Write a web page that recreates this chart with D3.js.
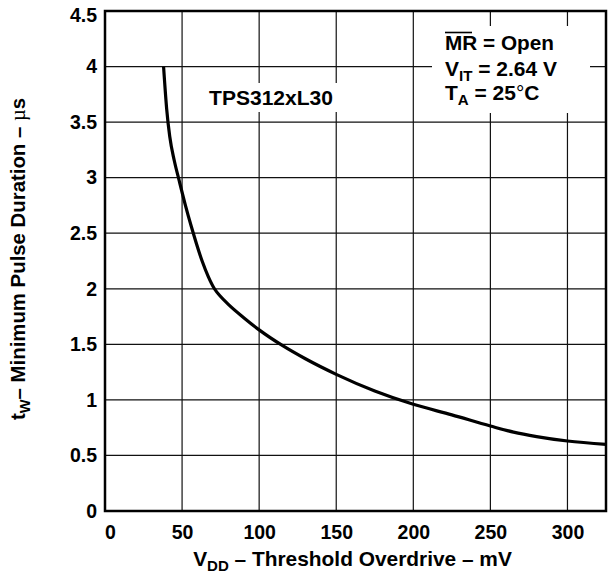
<!DOCTYPE html>
<html>
<head>
<meta charset="utf-8">
<script src="https://cdn.jsdelivr.net/npm/d3@7"></script>
<style>
  body { margin: 0; background: #fff; }
  text { font-family: "Liberation Sans", Arial, sans-serif; font-weight: bold; fill: #000; }
</style>
</head>
<body>
<div id="graphic"></div>
<script>
// curve
var overdrive = [38, 40, 42, 45, 48, 52, 56, 63, 67, 71, 75, 80, 90, 100, 115, 130, 150, 175, 200, 225, 250, 265, 280, 300, 325];
var pulseWidth = [4.0, 3.62, 3.37, 3.15, 2.98, 2.76, 2.56, 2.25, 2.11, 2.0, 1.93, 1.86, 1.74, 1.63, 1.49, 1.37, 1.23, 1.08, 0.96, 0.865, 0.765, 0.71, 0.67, 0.63, 0.60];
var xTicks = [0, 50, 100, 150, 200, 250, 300];
var yTicks = [0, 0.5, 1, 1.5, 2, 2.5, 3, 3.5, 4, 4.5];

var margin = {top: 11, right: 2, bottom: 67, left: 105},
    width = 608 - margin.left - margin.right,
    height = 578 - margin.top - margin.bottom;

var x = d3.scaleLinear().domain([0, 325]).range([0, width]);
var y = d3.scaleLinear().domain([0, 4.5]).range([height, 0]);

var svg = d3.select("#graphic").append("svg")
  .attr("width", 608)
  .attr("height", 578);

var g = svg.append("g")
  .attr("transform", "translate(" + margin.left + "," + margin.top + ")");

// scale a text so it spans the width measured on the reference
function fit(sel, target) {
  var fs = +sel.attr("font-size");
  var len = sel.node().getComputedTextLength();
  sel.attr("font-size", fs * target / len);
}

// grid
g.selectAll(".vgrid")
  .data(xTicks.slice(1))
  .enter().append("line")
  .attr("x1", function(d) { return x(d); })
  .attr("x2", function(d) { return x(d); })
  .attr("y1", 0).attr("y2", height)
  .attr("stroke", "#111").attr("stroke-width", 1.2);

g.selectAll(".hgrid")
  .data(yTicks.slice(1))
  .enter().append("line")
  .attr("y1", function(d) { return y(d); })
  .attr("y2", function(d) { return y(d); })
  .attr("x1", 0).attr("x2", width)
  .attr("stroke", "#111").attr("stroke-width", 1.2);

// white boxes behind the labels
g.append("rect")
  .attr("x", 432 - margin.left).attr("y", 26 - margin.top)
  .attr("width", 158).attr("height", 87)
  .attr("fill", "#fff");
g.append("rect")
  .attr("x", 207 - margin.left).attr("y", 83 - margin.top)
  .attr("width", 130).attr("height", 29)
  .attr("fill", "#fff");

// curve
var line = d3.line()
  .x(function(d, i) { return x(overdrive[i]); })
  .y(function(d) { return y(d); })
  .curve(d3.curveMonotoneX);

g.append("path")
  .datum(pulseWidth)
  .attr("d", line)
  .attr("fill", "none")
  .attr("stroke", "#000")
  .attr("stroke-width", 3.2);

// frame
g.append("rect")
  .attr("width", width).attr("height", height)
  .attr("fill", "none").attr("stroke", "#000").attr("stroke-width", 2.5);

// axes
var xAxis = g.append("g")
  .attr("transform", "translate(0," + height + ")")
  .call(d3.axisBottom(x).tickValues(xTicks).tickSize(0).tickPadding(14).tickFormat(d3.format("d")));
var yAxis = g.append("g")
  .call(d3.axisLeft(y).tickValues(yTicks).tickSize(0).tickPadding(8).tickFormat(function(d) { return d; }));
[xAxis, yAxis].forEach(function(a) {
  a.select(".domain").remove();
  a.selectAll("text").attr("font-size", 19.5).attr("font-family", null);
});
xAxis.selectAll(".tick").filter(function(d) { return d === 0; }).select("text").attr("dx", 5);
yAxis.selectAll(".tick").filter(function(d) { return d === 4.5; }).select("text").attr("dy", "0.55em");

// axis titles
var xt = svg.append("text")
  .attr("x", 352.5).attr("y", 566)
  .attr("text-anchor", "middle").attr("font-size", 18);
xt.append("tspan").text("V");
xt.append("tspan").attr("font-size", "0.72em").attr("dy", "0.35em").text("DD");
xt.append("tspan").attr("dy", "-0.25em").text(" \u2013 Threshold Overdrive \u2013 mV");
fit(xt, 319);

var yt = svg.append("text")
  .attr("transform", "translate(25,259) rotate(-90)")
  .attr("text-anchor", "middle").attr("font-size", 18);
yt.append("tspan").text("t");
yt.append("tspan").attr("font-size", "0.72em").attr("dy", "0.35em").text("W");
yt.append("tspan").attr("dy", "-0.25em").text("\u2013 Minimum Pulse Duration \u2013 ");
yt.append("tspan").attr("font-weight", "normal").attr("font-family", "Liberation Serif, serif").text("\u00b5");
yt.append("tspan").text("s");
fit(yt, 322);

// annotations
var tps = svg.append("text")
  .attr("x", 271).attr("y", 105)
  .attr("text-anchor", "middle").attr("font-size", 19)
  .text("TPS312xL30");
fit(tps, 124);

var t1 = svg.append("text").attr("x", 445).attr("y", 50).attr("font-size", 18);
t1.append("tspan").text("MR");
t1.append("tspan").text(" = Open");
fit(t1, 109);
svg.append("line")
  .attr("x1", 445).attr("x2", 472).attr("y1", 32.5).attr("y2", 32.5)
  .attr("stroke", "#000").attr("stroke-width", 1.6);

var t2 = svg.append("text").attr("x", 445).attr("y", 76).attr("font-size", 18);
t2.append("tspan").text("V");
t2.append("tspan").attr("font-size", "0.72em").attr("dy", "0.35em").text("IT");
t2.append("tspan").attr("dy", "-0.25em").text(" = 2.64 V");
fit(t2, 112);

var t3 = svg.append("text").attr("x", 445).attr("y", 100).attr("font-size", +t2.attr("font-size"));
t3.append("tspan").text("T");
t3.append("tspan").attr("font-size", "0.72em").attr("dy", "0.35em").text("A");
t3.append("tspan").attr("dy", "-0.25em").text(" = 25");
t3.append("tspan").attr("font-weight", "normal").text("\u00b0");
t3.append("tspan").text("C");
</script>
</body>
</html>
